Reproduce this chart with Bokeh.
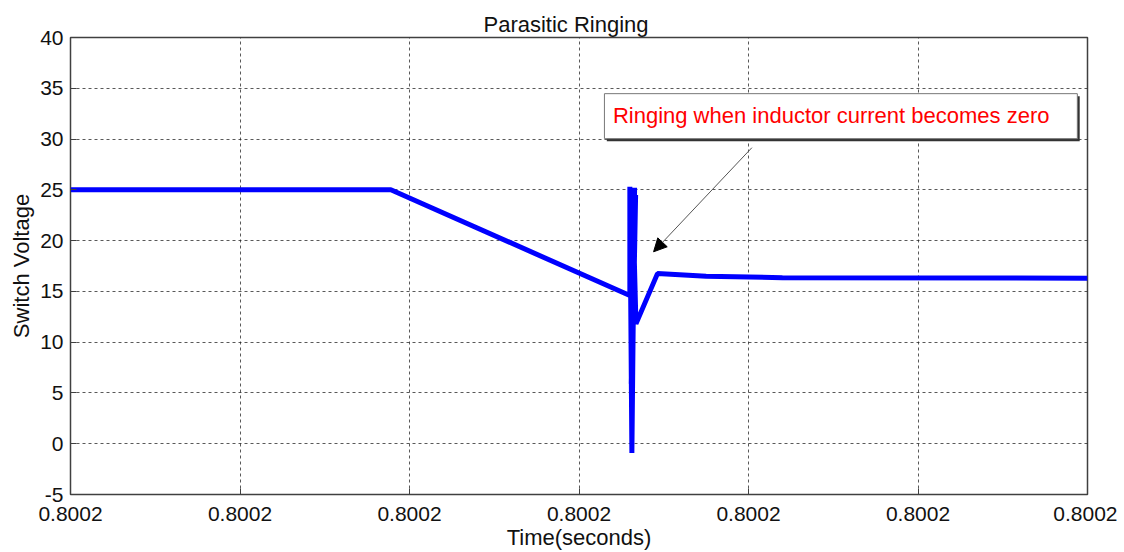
from bokeh.plotting import figure
from bokeh.models import Range1d, FixedTicker, Arrow, NormalHead
from bokeh.core.properties import value
from bokeh.embed import file_html
from bokeh.resources import INLINE

# ---- data (time offset in tick units; every tick reads 0.8002 s) ----
time_ticks = [0, 1, 2, 3, 4, 5, 6]
time_tick_labels = ["0.8002"] * 7
volt_ticks = [-5, 0, 5, 10, 15, 20, 25, 30, 35, 40]
volt_tick_labels = ["-5", "0", "5", "10", "15", "20", "25", "30", "35", "40"]

t = [0.0, 1.89, 3.300, 3.300, 3.312, 3.328, 3.308, 3.334, 3.318, 3.326, 3.336,
     3.463, 3.75, 4.2, 6.0]
v = [25.0, 25.0, 14.6, 25.3, -0.9, 25.2, 5.9, 24.5, 10.0, 18.3, 11.8,
     16.75, 16.5, 16.35, 16.3]

note_text = "Ringing when inductor current becomes zero"
note_box = dict(left=3.15, right=5.94, bottom=30.04, top=34.47)
note_pos = (3.20, 32.3)
arrow_from = (4.02, 29.15)
arrow_to = (3.44, 18.9)

FONT = "Liberation Sans"

p = figure(frame_width=1017, frame_height=457,
           x_range=Range1d(0, 6), y_range=Range1d(-5, 40),
           output_backend="svg", toolbar_location=None,
           min_border_left=70, min_border_right=30, min_border_top=37,
           min_border_bottom=50, title="Parasitic Ringing")
p.title.align = "left"
p.title.offset = 413
p.title.text_font = FONT
p.title.text_font_size = "22px"
p.title.text_font_style = "normal"
p.title.text_color = "#111111"
p.title.standoff = 2

p.outline_line_color = "#404040"
p.outline_line_width = 1.5
p.background_fill_color = "white"
p.border_fill_color = "white"

for ax in (p.xaxis[0], p.yaxis[0]):
    ax.major_tick_in = 6
    ax.major_tick_out = 0
    ax.minor_tick_in = 0
    ax.minor_tick_out = 0
    ax.axis_line_color = "#404040"
    ax.major_tick_line_color = "#404040"
    ax.major_label_text_font = FONT
    ax.major_label_text_font_size = "21px"
    ax.major_label_text_color = "#111111"
    ax.axis_label_text_font = FONT
    ax.axis_label_text_font_style = "normal"
    ax.axis_label_text_color = "#111111"

p.xaxis.ticker = FixedTicker(ticks=time_ticks)
p.xaxis.major_label_overrides = {tk: lab for tk, lab in zip(time_ticks, time_tick_labels)}
p.xaxis.axis_label = "Time(seconds)"
p.xaxis.axis_label_text_font_size = "22px"
p.xaxis.major_label_standoff = 12
p.xaxis.axis_label_standoff = 1

p.yaxis.ticker = FixedTicker(ticks=volt_ticks)
p.yaxis.major_label_overrides = {tk: lab for tk, lab in zip(volt_ticks, volt_tick_labels)}
p.yaxis.axis_label = "Switch Voltage"
p.yaxis.axis_label_text_font_size = "22px"
p.yaxis.major_label_standoff = 7
p.yaxis.axis_label_standoff = 3

p.xgrid.ticker = FixedTicker(ticks=time_ticks)
p.ygrid.ticker = FixedTicker(ticks=volt_ticks)
for g in (p.xgrid[0], p.ygrid[0]):
    g.grid_line_color = "#222222"
    g.grid_line_alpha = 0.75
    g.grid_line_dash = "3 3"
    g.grid_line_width = 1

# signal
p.line(t, v, line_color="#0000FF", line_width=5)

# annotation box with shadow
p.quad(left=[note_box["left"] + 0.014], right=[note_box["right"] + 0.014],
       bottom=[note_box["bottom"] - 0.25], top=[note_box["top"] - 0.25],
       fill_color="#333333", line_color=None)
p.quad(left=[note_box["left"]], right=[note_box["right"]],
       bottom=[note_box["bottom"]], top=[note_box["top"]],
       fill_color="white", line_color="#777777", line_width=1)
p.text(x=[note_pos[0]], y=[note_pos[1]], text=[note_text],
       text_font=value(FONT), text_font_size="22px", text_color="#FF0000",
       text_baseline="middle", text_align="left")

p.add_layout(Arrow(end=NormalHead(size=13, fill_color="black", line_color="black"),
                   x_start=arrow_from[0], y_start=arrow_from[1],
                   x_end=arrow_to[0], y_end=arrow_to[1],
                   line_color="#555555", line_width=1))

open("out.html", "w").write(file_html(p, INLINE))
